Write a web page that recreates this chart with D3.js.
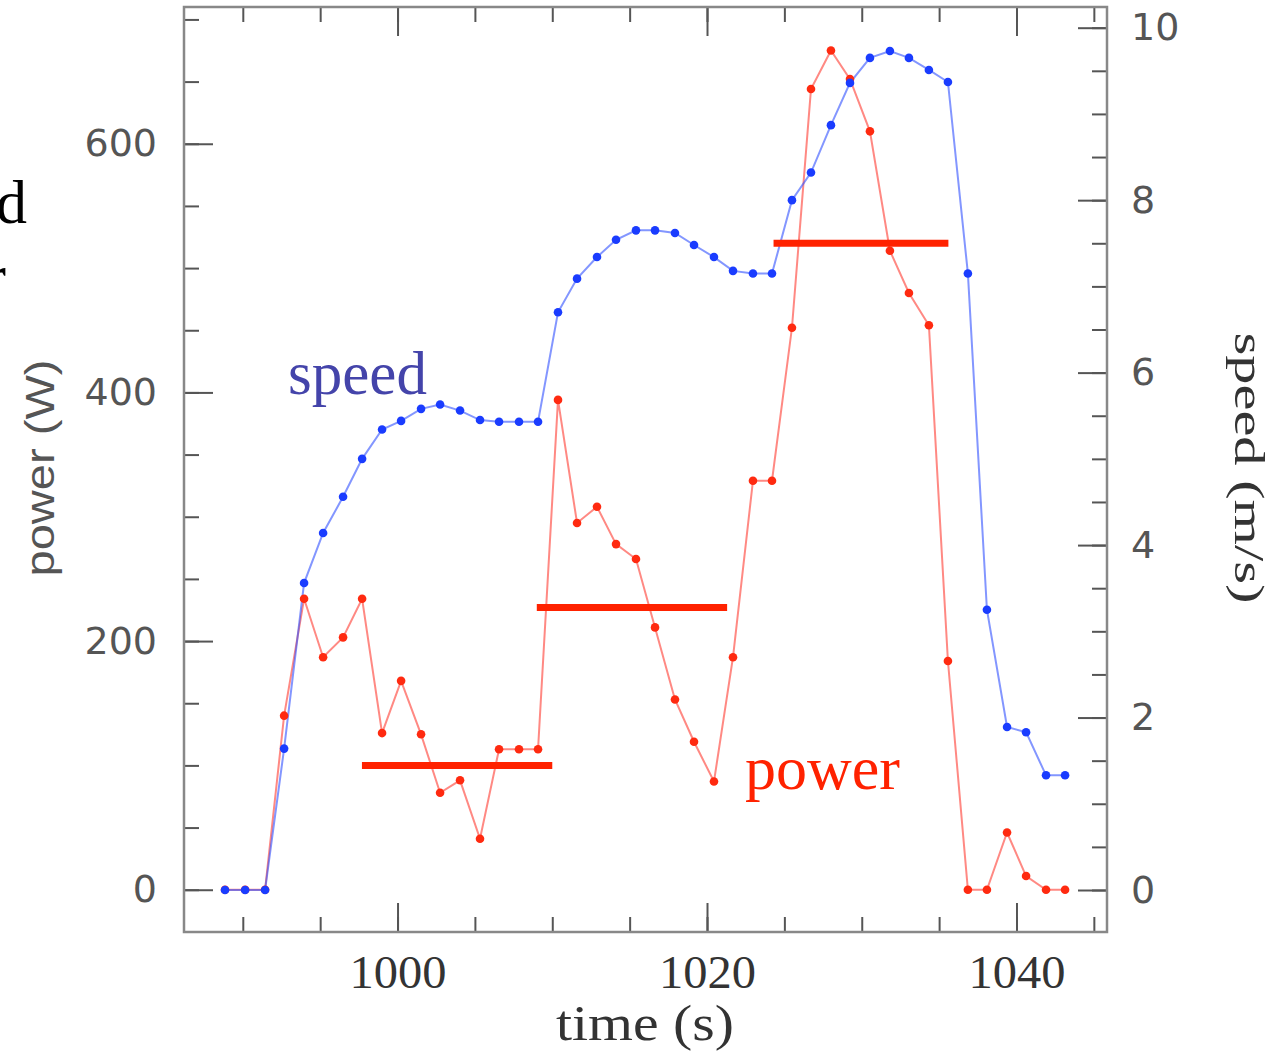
<!DOCTYPE html>
<html lang="en">
<head>
	<meta charset="UTF-8">
	<title>power and speed</title>
	<script src="https://d3js.org/d3.v7.min.js"></script>
	<style>
		body { margin: 0; background: #fff; }
		svg { display: block; }
	</style>
</head>
<body>
<script>
	//----data----
	var time = [988.85, 990.15, 991.44, 992.67, 993.96, 995.19, 996.48, 997.71, 999.0, 1000.23,
		1001.52, 1002.75, 1004.04, 1005.33, 1006.56, 1007.85, 1009.08, 1010.37, 1011.6, 1012.89,
		1014.12, 1015.41, 1016.64, 1017.93, 1019.16, 1020.45, 1021.68, 1022.97, 1024.2, 1025.49,
		1026.72, 1028.01, 1029.24, 1030.53, 1031.82, 1033.05, 1034.34, 1035.57, 1036.86, 1038.09,
		1039.39, 1040.62, 1041.91, 1043.14];
	var power = [0, 0, 0, 140, 234, 187, 203, 234, 126, 168,
		125, 78, 88, 41, 113, 113, 113, 394, 295, 308,
		278, 266, 211, 153, 119, 87, 187, 329, 329, 452,
		644, 675, 652, 610, 514, 480, 454, 184, 0, 0,
		46, 11, 0, 0];
	var speed = [0, 0, 0, 1.64, 3.56, 4.14, 4.56, 5.0, 5.34, 5.44,
		5.58, 5.63, 5.56, 5.45, 5.43, 5.43, 5.43, 6.7, 7.09, 7.34,
		7.54, 7.65, 7.65, 7.62, 7.48, 7.34, 7.18, 7.15, 7.15, 8.0,
		8.32, 8.87, 9.36, 9.65, 9.73, 9.65, 9.51, 9.37, 7.15, 3.25,
		1.89, 1.83, 1.33, 1.33];

	// average power bars
	var barStart = [997.7, 1009.0, 1024.3];
	var barEnd = [1010.0, 1021.3, 1035.6];
	var barPower = [100, 227, 520];

	var timeTicks = [1000, 1020, 1040];
	var powerTicks = [0, 200, 400, 600];
	var speedTicks = [0, 2, 4, 6, 8, 10];

	var W = 1274, H = 1052;
	var pLeft = 184, pRight = 1107, pTop = 7, pBottom = 932;

	var svg = d3.select('body').append('svg')
		.attr('width', W)
		.attr('height', H);

	var x = d3.scaleLinear().domain([986.2, 1045.85]).range([pLeft, pRight]);
	var yP = d3.scaleLinear().domain([-34, 710]).range([pBottom, pTop]);
	var yS = d3.scaleLinear().domain([-0.487, 10.24]).range([pBottom, pTop]);

	//----Achsen----//
	function styleAxis(g) {
		g.select('.domain').remove();
		g.selectAll('.tick line').attr('stroke', '#555').attr('stroke-width', 2);
	}

	var minorT = d3.range(990, 1046, 5);
	var minorP = d3.range(0, 701, 50);
	var minorS = d3.range(0, 10.01, 0.5);

	// minor ticks
	svg.append('g').attr('transform', 'translate(0,' + pBottom + ')')
		.call(d3.axisBottom(x).tickValues(minorT).tickSize(-15).tickFormat(''))
		.call(styleAxis);
	svg.append('g').attr('transform', 'translate(0,' + pTop + ')')
		.call(d3.axisTop(x).tickValues(minorT).tickSize(-15).tickFormat(''))
		.call(styleAxis);
	svg.append('g').attr('transform', 'translate(' + pLeft + ',0)')
		.call(d3.axisLeft(yP).tickValues(minorP).tickSize(-15).tickFormat(''))
		.call(styleAxis);
	svg.append('g').attr('transform', 'translate(' + pRight + ',0)')
		.call(d3.axisRight(yS).tickValues(minorS).tickSize(-15).tickFormat(''))
		.call(styleAxis);

	// major ticks with labels
	var xAxis = svg.append('g').attr('transform', 'translate(0,' + pBottom + ')')
		.call(d3.axisBottom(x).tickValues(timeTicks).tickSize(-29).tickPadding(23).tickFormat(d3.format('d')))
		.call(styleAxis);
	xAxis.selectAll('text')
		.attr('font-family', 'Liberation Serif, serif')
		.attr('font-size', 47)
		.attr('fill', '#333')
		.attr('textLength', 97)
		.attr('lengthAdjust', 'spacingAndGlyphs');

	svg.append('g').attr('transform', 'translate(0,' + pTop + ')')
		.call(d3.axisTop(x).tickValues(timeTicks).tickSize(-29).tickFormat(''))
		.call(styleAxis);

	var yAxisL = svg.append('g').attr('transform', 'translate(' + pLeft + ',0)')
		.call(d3.axisLeft(yP).tickValues(powerTicks).tickSize(-29).tickPadding(27))
		.call(styleAxis);
	yAxisL.selectAll('text')
		.attr('font-family', 'DejaVu Sans, sans-serif')
		.attr('font-size', 38)
		.attr('fill', '#555');

	var yAxisR = svg.append('g').attr('transform', 'translate(' + pRight + ',0)')
		.call(d3.axisRight(yS).tickValues(speedTicks).tickSize(-29).tickPadding(24))
		.call(styleAxis);
	yAxisR.selectAll('text')
		.attr('font-family', 'DejaVu Sans, sans-serif')
		.attr('font-size', 38)
		.attr('fill', '#555');

	// frame
	svg.append('rect')
		.attr('x', pLeft).attr('y', pTop)
		.attr('width', pRight - pLeft).attr('height', pBottom - pTop)
		.attr('fill', 'none')
		.attr('stroke', '#888')
		.attr('stroke-width', 2.5);

	// axis titles
	svg.append('text')
		.attr('transform', 'translate(54,468) rotate(-90)')
		.attr('text-anchor', 'middle')
		.attr('font-family', 'Liberation Sans, sans-serif')
		.attr('font-size', 40)
		.attr('fill', '#555')
		.attr('textLength', 217)
		.attr('lengthAdjust', 'spacingAndGlyphs')
		.text('power (W)');

	svg.append('text')
		.attr('transform', 'translate(1235,468) rotate(90)')
		.attr('text-anchor', 'middle')
		.attr('font-family', 'Liberation Serif, serif')
		.attr('font-size', 42)
		.attr('fill', '#333')
		.attr('textLength', 271)
		.attr('lengthAdjust', 'spacingAndGlyphs')
		.text('speed (m/s)');

	svg.append('text')
		.attr('x', 645).attr('y', 1040)
		.attr('text-anchor', 'middle')
		.attr('font-family', 'Liberation Serif, serif')
		.attr('font-size', 50)
		.attr('fill', '#333')
		.attr('textLength', 178)
		.attr('lengthAdjust', 'spacingAndGlyphs')
		.text('time (s)');

	//----lines and points----
	var speedLine = d3.line()
		.x(function (d, i) { return x(time[i]); })
		.y(function (d) { return yS(d); });
	var powerLine = d3.line()
		.x(function (d, i) { return x(time[i]); })
		.y(function (d) { return yP(d); });

	svg.append('path')
		.datum(power)
		.attr('d', powerLine)
		.attr('fill', 'none')
		.attr('stroke', '#ff3a30')
		.attr('stroke-opacity', 0.6)
		.attr('stroke-width', 2);

	svg.append('path')
		.datum(speed)
		.attr('d', speedLine)
		.attr('fill', 'none')
		.attr('stroke', '#3050ff')
		.attr('stroke-opacity', 0.6)
		.attr('stroke-width', 2);

	svg.append('g').selectAll('circle')
		.data(power)
		.enter().append('circle')
		.attr('cx', function (d, i) { return x(time[i]); })
		.attr('cy', function (d) { return yP(d); })
		.attr('r', 4.3)
		.attr('fill', '#ff2a10');

	svg.append('g').selectAll('circle')
		.data(speed)
		.enter().append('circle')
		.attr('cx', function (d, i) { return x(time[i]); })
		.attr('cy', function (d) { return yS(d); })
		.attr('r', 4.3)
		.attr('fill', '#1a3cff');

	// average bars
	svg.append('g').selectAll('line')
		.data(barPower)
		.enter().append('line')
		.attr('x1', function (d, i) { return x(barStart[i]); })
		.attr('x2', function (d, i) { return x(barEnd[i]); })
		.attr('y1', function (d) { return yP(d); })
		.attr('y2', function (d) { return yP(d); })
		.attr('stroke', '#ff2200')
		.attr('stroke-width', 7);

	// series labels
	svg.append('text')
		.attr('x', 288).attr('y', 394)
		.attr('font-family', 'Liberation Serif, serif')
		.attr('font-size', 61)
		.attr('fill', '#4444aa')
		.text('speed');

	svg.append('text')
		.attr('x', 745).attr('y', 789)
		.attr('font-family', 'Liberation Serif, serif')
		.attr('font-size', 62)
		.attr('fill', '#ff2200')
		.text('power');

	// cut-off text at the left edge of the picture
	svg.append('text')
		.attr('x', 27).attr('y', 223)
		.attr('text-anchor', 'end')
		.attr('font-family', 'Liberation Serif, serif')
		.attr('font-size', 62)
		.attr('fill', '#000')
		.text('speed');

	svg.append('text')
		.attr('x', 6).attr('y', 297)
		.attr('text-anchor', 'end')
		.attr('font-family', 'Liberation Serif, serif')
		.attr('font-size', 62)
		.attr('fill', '#000')
		.text('power');
</script>
</body>
</html>
